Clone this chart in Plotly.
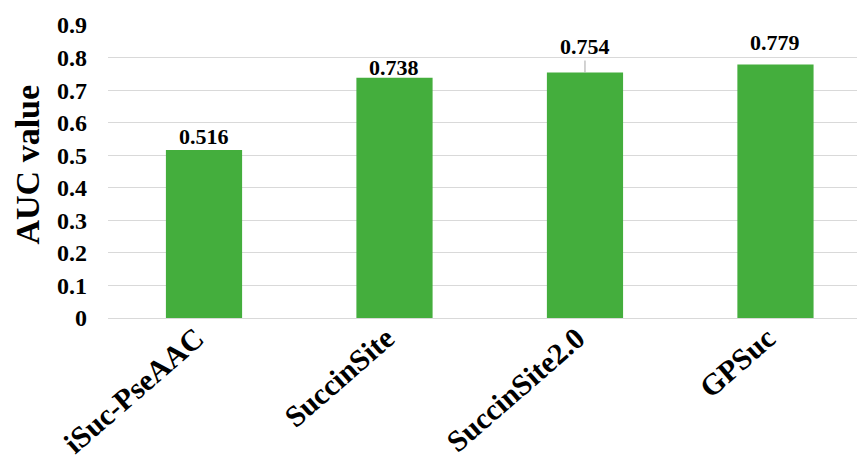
import plotly.graph_objects as go

categories = ["iSuc-PseAAC", "SuccinSite", "SuccinSite2.0", "GPSuc"]
auc_values = [0.516, 0.738, 0.754, 0.779]
value_labels = ["0.516", "0.738", "0.754", "0.779"]
y_ticks = [0, 0.1, 0.2, 0.3, 0.4, 0.5, 0.6, 0.7, 0.8, 0.9]
y_tick_text = ["0", "0.1", "0.2", "0.3", "0.4", "0.5", "0.6", "0.7", "0.8", "0.9"]

# label styling (pixel shifts above bar top; leader line for one label)
label_shifts = [-1, -4, 12, 7]
label_leader = [False, False, True, False]

FONT = "Liberation Serif"
GREEN = "#44AE3D"

fig = go.Figure()
fig.add_trace(go.Bar(
    x=categories, y=auc_values, width=0.4,
    marker=dict(color=GREEN, line=dict(width=0)),
    hoverinfo="skip",
))

for cat, val, txt, sh, lead in zip(categories, auc_values, value_labels, label_shifts, label_leader):
    if lead:
        fig.add_annotation(
            x=cat, y=val, text="<b>%s</b>" % txt, showarrow=True,
            arrowhead=0, arrowwidth=1, arrowcolor="#a6a6a6",
            ax=0, ay=-sh, yanchor="bottom", standoff=0,
            font=dict(family=FONT, size=22, color="black"),
        )
    else:
        fig.add_annotation(
            x=cat, y=val, text="<b>%s</b>" % txt, showarrow=False,
            yanchor="bottom", yshift=sh,
            font=dict(family=FONT, size=22, color="black"),
        )

# y-axis title as rotated annotation
fig.add_annotation(
    xref="paper", yref="paper", x=0, y=0.5, xanchor="center", yanchor="middle",
    xshift=-81, yshift=7, textangle=-90, showarrow=False,
    text="<b>AUC value</b>", font=dict(family=FONT, size=34, color="black"),
)

fig.update_layout(
    width=857, height=456,
    margin=dict(l=108, r=0, t=25, b=138, autoexpand=False),
    plot_bgcolor="white", paper_bgcolor="white",
    showlegend=False,
    font=dict(family=FONT, color="black"),
    bargap=0.6,
)
fig.update_xaxes(
    type="category", range=[-0.504, 3.428],
    tickangle=-41, showgrid=False, showline=True,
    linecolor="#d9d9d9", linewidth=1,
    tickfont=dict(family=FONT, size=30, color="black"),
    ticks="", ticklabelstandoff=-10, ticklabelshift=-8,
    tickvals=categories, ticktext=["<b>%s</b>" % c for c in categories],
)
fig.update_yaxes(
    range=[0, 0.9], tickvals=y_ticks, ticktext=["<b>%s</b>" % t for t in y_tick_text],
    showgrid=True, gridcolor="#d9d9d9", gridwidth=1,
    zeroline=False, showline=False,
    tickfont=dict(family=FONT, size=24, color="black"),
    ticks="", ticklabelstandoff=20,
)

fig.write_html("out.html")
